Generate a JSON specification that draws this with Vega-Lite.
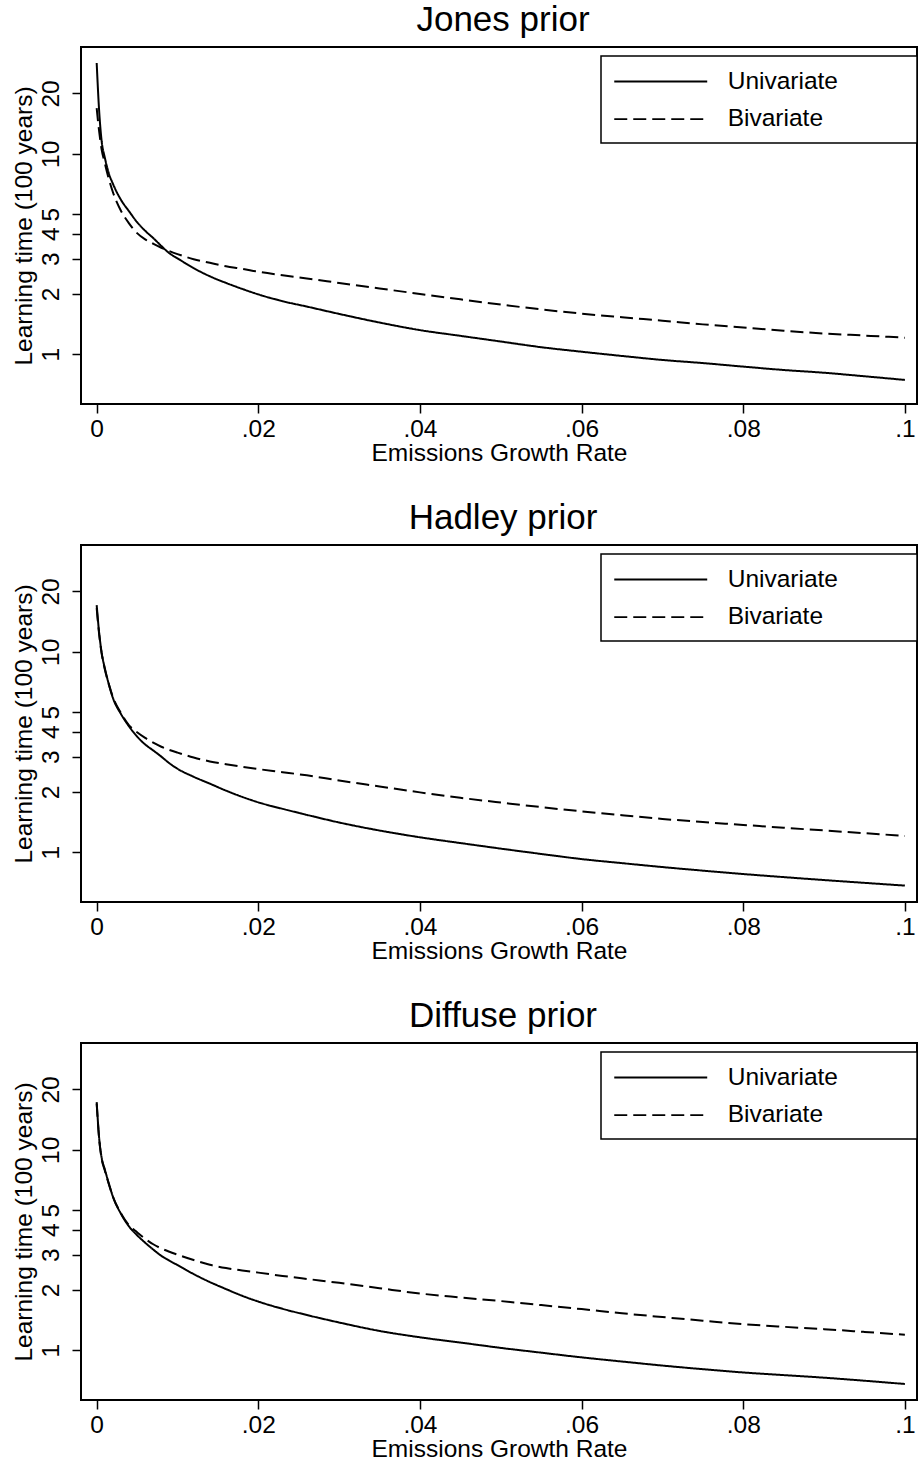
{
"$schema": "https://vega.github.io/schema/vega-lite/v6.json",
"background": "white",
"padding": {"left": 9, "top": 2, "right": 0, "bottom": 0},
"autosize": {"type": "pad"},
"config": {
  "font": "Liberation Sans",
  "view": {"stroke": "black", "strokeWidth": 2},
  "axis": {"domain": false, "grid": false, "tickColor": "black", "tickWidth": 1.5, "tickSize": 9, "labelColor": "black", "titleColor": "black", "labelFontSize": 24.5, "titleFontSize": 24.5, "titleFontWeight": "normal", "labelFont": "Liberation Sans", "titleFont": "Liberation Sans"},
  "title": {"fontSize": 35, "fontWeight": "normal", "color": "black", "anchor": "middle", "offset": 9, "dx": 4, "baseline": "alphabetic", "font": "Liberation Sans"},
  "legend": {"strokeWidth": 1.5},
  "concat": {"spacing": 34}
},
"datasets": {"curves": [
{"prior":"Jones prior","model":"Univariate","growth":0,"time":28.4},
{"prior":"Jones prior","model":"Univariate","growth":0.0003,"time":16.5},
{"prior":"Jones prior","model":"Univariate","growth":0.0006,"time":11.7},
{"prior":"Jones prior","model":"Univariate","growth":0.001,"time":9.6},
{"prior":"Jones prior","model":"Univariate","growth":0.0015,"time":8.0},
{"prior":"Jones prior","model":"Univariate","growth":0.002,"time":7.1},
{"prior":"Jones prior","model":"Univariate","growth":0.003,"time":5.9},
{"prior":"Jones prior","model":"Univariate","growth":0.004,"time":5.17},
{"prior":"Jones prior","model":"Univariate","growth":0.005,"time":4.56},
{"prior":"Jones prior","model":"Univariate","growth":0.006,"time":4.13},
{"prior":"Jones prior","model":"Univariate","growth":0.007,"time":3.80},
{"prior":"Jones prior","model":"Univariate","growth":0.008,"time":3.47},
{"prior":"Jones prior","model":"Univariate","growth":0.009,"time":3.19},
{"prior":"Jones prior","model":"Univariate","growth":0.01,"time":3.01},
{"prior":"Jones prior","model":"Univariate","growth":0.012,"time":2.69},
{"prior":"Jones prior","model":"Univariate","growth":0.014,"time":2.45},
{"prior":"Jones prior","model":"Univariate","growth":0.016,"time":2.27},
{"prior":"Jones prior","model":"Univariate","growth":0.018,"time":2.12},
{"prior":"Jones prior","model":"Univariate","growth":0.02,"time":1.99},
{"prior":"Jones prior","model":"Univariate","growth":0.023,"time":1.84},
{"prior":"Jones prior","model":"Univariate","growth":0.026,"time":1.73},
{"prior":"Jones prior","model":"Univariate","growth":0.03,"time":1.59},
{"prior":"Jones prior","model":"Univariate","growth":0.035,"time":1.44},
{"prior":"Jones prior","model":"Univariate","growth":0.04,"time":1.32},
{"prior":"Jones prior","model":"Univariate","growth":0.045,"time":1.236},
{"prior":"Jones prior","model":"Univariate","growth":0.05,"time":1.158},
{"prior":"Jones prior","model":"Univariate","growth":0.055,"time":1.085},
{"prior":"Jones prior","model":"Univariate","growth":0.06,"time":1.03},
{"prior":"Jones prior","model":"Univariate","growth":0.065,"time":0.981},
{"prior":"Jones prior","model":"Univariate","growth":0.07,"time":0.937},
{"prior":"Jones prior","model":"Univariate","growth":0.075,"time":0.904},
{"prior":"Jones prior","model":"Univariate","growth":0.08,"time":0.868},
{"prior":"Jones prior","model":"Univariate","growth":0.085,"time":0.835},
{"prior":"Jones prior","model":"Univariate","growth":0.09,"time":0.809},
{"prior":"Jones prior","model":"Univariate","growth":0.095,"time":0.777},
{"prior":"Jones prior","model":"Univariate","growth":0.1,"time":0.745},
{"prior":"Jones prior","model":"Bivariate","growth":0,"time":16.9},
{"prior":"Jones prior","model":"Bivariate","growth":0.0003,"time":13.0},
{"prior":"Jones prior","model":"Bivariate","growth":0.0006,"time":10.6},
{"prior":"Jones prior","model":"Bivariate","growth":0.001,"time":9.0},
{"prior":"Jones prior","model":"Bivariate","growth":0.0015,"time":7.5},
{"prior":"Jones prior","model":"Bivariate","growth":0.002,"time":6.45},
{"prior":"Jones prior","model":"Bivariate","growth":0.003,"time":5.2},
{"prior":"Jones prior","model":"Bivariate","growth":0.004,"time":4.5},
{"prior":"Jones prior","model":"Bivariate","growth":0.005,"time":4.02},
{"prior":"Jones prior","model":"Bivariate","growth":0.006,"time":3.74},
{"prior":"Jones prior","model":"Bivariate","growth":0.007,"time":3.56},
{"prior":"Jones prior","model":"Bivariate","growth":0.008,"time":3.40},
{"prior":"Jones prior","model":"Bivariate","growth":0.009,"time":3.27},
{"prior":"Jones prior","model":"Bivariate","growth":0.01,"time":3.16},
{"prior":"Jones prior","model":"Bivariate","growth":0.012,"time":2.98},
{"prior":"Jones prior","model":"Bivariate","growth":0.014,"time":2.86},
{"prior":"Jones prior","model":"Bivariate","growth":0.016,"time":2.75},
{"prior":"Jones prior","model":"Bivariate","growth":0.018,"time":2.67},
{"prior":"Jones prior","model":"Bivariate","growth":0.02,"time":2.58},
{"prior":"Jones prior","model":"Bivariate","growth":0.023,"time":2.48},
{"prior":"Jones prior","model":"Bivariate","growth":0.026,"time":2.39},
{"prior":"Jones prior","model":"Bivariate","growth":0.03,"time":2.27},
{"prior":"Jones prior","model":"Bivariate","growth":0.035,"time":2.13},
{"prior":"Jones prior","model":"Bivariate","growth":0.04,"time":2.0},
{"prior":"Jones prior","model":"Bivariate","growth":0.045,"time":1.88},
{"prior":"Jones prior","model":"Bivariate","growth":0.05,"time":1.77},
{"prior":"Jones prior","model":"Bivariate","growth":0.055,"time":1.675},
{"prior":"Jones prior","model":"Bivariate","growth":0.06,"time":1.595},
{"prior":"Jones prior","model":"Bivariate","growth":0.065,"time":1.53},
{"prior":"Jones prior","model":"Bivariate","growth":0.07,"time":1.47},
{"prior":"Jones prior","model":"Bivariate","growth":0.075,"time":1.41},
{"prior":"Jones prior","model":"Bivariate","growth":0.08,"time":1.36},
{"prior":"Jones prior","model":"Bivariate","growth":0.085,"time":1.31},
{"prior":"Jones prior","model":"Bivariate","growth":0.09,"time":1.27},
{"prior":"Jones prior","model":"Bivariate","growth":0.095,"time":1.24},
{"prior":"Jones prior","model":"Bivariate","growth":0.1,"time":1.21},
{"prior":"Hadley prior","model":"Univariate","growth":0,"time":17.1},
{"prior":"Hadley prior","model":"Univariate","growth":0.0003,"time":12.5},
{"prior":"Hadley prior","model":"Univariate","growth":0.0006,"time":10.0},
{"prior":"Hadley prior","model":"Univariate","growth":0.001,"time":8.3},
{"prior":"Hadley prior","model":"Univariate","growth":0.0015,"time":6.9},
{"prior":"Hadley prior","model":"Univariate","growth":0.002,"time":5.9},
{"prior":"Hadley prior","model":"Univariate","growth":0.003,"time":4.9},
{"prior":"Hadley prior","model":"Univariate","growth":0.004,"time":4.25},
{"prior":"Hadley prior","model":"Univariate","growth":0.005,"time":3.78},
{"prior":"Hadley prior","model":"Univariate","growth":0.006,"time":3.45},
{"prior":"Hadley prior","model":"Univariate","growth":0.007,"time":3.22},
{"prior":"Hadley prior","model":"Univariate","growth":0.008,"time":3.0},
{"prior":"Hadley prior","model":"Univariate","growth":0.009,"time":2.78},
{"prior":"Hadley prior","model":"Univariate","growth":0.01,"time":2.61},
{"prior":"Hadley prior","model":"Univariate","growth":0.012,"time":2.38},
{"prior":"Hadley prior","model":"Univariate","growth":0.014,"time":2.20},
{"prior":"Hadley prior","model":"Univariate","growth":0.016,"time":2.03},
{"prior":"Hadley prior","model":"Univariate","growth":0.018,"time":1.89},
{"prior":"Hadley prior","model":"Univariate","growth":0.02,"time":1.775},
{"prior":"Hadley prior","model":"Univariate","growth":0.023,"time":1.647},
{"prior":"Hadley prior","model":"Univariate","growth":0.026,"time":1.537},
{"prior":"Hadley prior","model":"Univariate","growth":0.03,"time":1.408},
{"prior":"Hadley prior","model":"Univariate","growth":0.035,"time":1.284},
{"prior":"Hadley prior","model":"Univariate","growth":0.04,"time":1.188},
{"prior":"Hadley prior","model":"Univariate","growth":0.045,"time":1.112},
{"prior":"Hadley prior","model":"Univariate","growth":0.05,"time":1.043},
{"prior":"Hadley prior","model":"Univariate","growth":0.055,"time":0.981},
{"prior":"Hadley prior","model":"Univariate","growth":0.06,"time":0.925},
{"prior":"Hadley prior","model":"Univariate","growth":0.065,"time":0.883},
{"prior":"Hadley prior","model":"Univariate","growth":0.07,"time":0.844},
{"prior":"Hadley prior","model":"Univariate","growth":0.075,"time":0.81},
{"prior":"Hadley prior","model":"Univariate","growth":0.08,"time":0.779},
{"prior":"Hadley prior","model":"Univariate","growth":0.085,"time":0.752},
{"prior":"Hadley prior","model":"Univariate","growth":0.09,"time":0.727},
{"prior":"Hadley prior","model":"Univariate","growth":0.095,"time":0.704},
{"prior":"Hadley prior","model":"Univariate","growth":0.1,"time":0.682},
{"prior":"Hadley prior","model":"Bivariate","growth":0,"time":16.5},
{"prior":"Hadley prior","model":"Bivariate","growth":0.0003,"time":12.3},
{"prior":"Hadley prior","model":"Bivariate","growth":0.0006,"time":9.9},
{"prior":"Hadley prior","model":"Bivariate","growth":0.001,"time":8.2},
{"prior":"Hadley prior","model":"Bivariate","growth":0.0015,"time":6.9},
{"prior":"Hadley prior","model":"Bivariate","growth":0.002,"time":5.95},
{"prior":"Hadley prior","model":"Bivariate","growth":0.003,"time":4.95},
{"prior":"Hadley prior","model":"Bivariate","growth":0.004,"time":4.3},
{"prior":"Hadley prior","model":"Bivariate","growth":0.005,"time":3.97},
{"prior":"Hadley prior","model":"Bivariate","growth":0.006,"time":3.72},
{"prior":"Hadley prior","model":"Bivariate","growth":0.007,"time":3.52},
{"prior":"Hadley prior","model":"Bivariate","growth":0.008,"time":3.36},
{"prior":"Hadley prior","model":"Bivariate","growth":0.009,"time":3.24},
{"prior":"Hadley prior","model":"Bivariate","growth":0.01,"time":3.14},
{"prior":"Hadley prior","model":"Bivariate","growth":0.012,"time":2.97},
{"prior":"Hadley prior","model":"Bivariate","growth":0.014,"time":2.84},
{"prior":"Hadley prior","model":"Bivariate","growth":0.016,"time":2.75},
{"prior":"Hadley prior","model":"Bivariate","growth":0.018,"time":2.67},
{"prior":"Hadley prior","model":"Bivariate","growth":0.02,"time":2.60},
{"prior":"Hadley prior","model":"Bivariate","growth":0.023,"time":2.51},
{"prior":"Hadley prior","model":"Bivariate","growth":0.026,"time":2.42},
{"prior":"Hadley prior","model":"Bivariate","growth":0.03,"time":2.28},
{"prior":"Hadley prior","model":"Bivariate","growth":0.035,"time":2.13},
{"prior":"Hadley prior","model":"Bivariate","growth":0.04,"time":1.99},
{"prior":"Hadley prior","model":"Bivariate","growth":0.045,"time":1.87},
{"prior":"Hadley prior","model":"Bivariate","growth":0.05,"time":1.77},
{"prior":"Hadley prior","model":"Bivariate","growth":0.055,"time":1.68},
{"prior":"Hadley prior","model":"Bivariate","growth":0.06,"time":1.60},
{"prior":"Hadley prior","model":"Bivariate","growth":0.065,"time":1.53},
{"prior":"Hadley prior","model":"Bivariate","growth":0.07,"time":1.467},
{"prior":"Hadley prior","model":"Bivariate","growth":0.075,"time":1.415},
{"prior":"Hadley prior","model":"Bivariate","growth":0.08,"time":1.37},
{"prior":"Hadley prior","model":"Bivariate","growth":0.085,"time":1.325},
{"prior":"Hadley prior","model":"Bivariate","growth":0.09,"time":1.285},
{"prior":"Hadley prior","model":"Bivariate","growth":0.095,"time":1.245},
{"prior":"Hadley prior","model":"Bivariate","growth":0.1,"time":1.207},
{"prior":"Diffuse prior","model":"Univariate","growth":0,"time":17.3},
{"prior":"Diffuse prior","model":"Univariate","growth":0.0003,"time":11.5},
{"prior":"Diffuse prior","model":"Univariate","growth":0.0006,"time":9.2},
{"prior":"Diffuse prior","model":"Univariate","growth":0.001,"time":8.0},
{"prior":"Diffuse prior","model":"Univariate","growth":0.0015,"time":6.8},
{"prior":"Diffuse prior","model":"Univariate","growth":0.002,"time":5.85},
{"prior":"Diffuse prior","model":"Univariate","growth":0.003,"time":4.8},
{"prior":"Diffuse prior","model":"Univariate","growth":0.004,"time":4.15},
{"prior":"Diffuse prior","model":"Univariate","growth":0.005,"time":3.75},
{"prior":"Diffuse prior","model":"Univariate","growth":0.006,"time":3.44},
{"prior":"Diffuse prior","model":"Univariate","growth":0.007,"time":3.18},
{"prior":"Diffuse prior","model":"Univariate","growth":0.008,"time":2.96},
{"prior":"Diffuse prior","model":"Univariate","growth":0.009,"time":2.8},
{"prior":"Diffuse prior","model":"Univariate","growth":0.01,"time":2.66},
{"prior":"Diffuse prior","model":"Univariate","growth":0.012,"time":2.40},
{"prior":"Diffuse prior","model":"Univariate","growth":0.014,"time":2.19},
{"prior":"Diffuse prior","model":"Univariate","growth":0.016,"time":2.02},
{"prior":"Diffuse prior","model":"Univariate","growth":0.018,"time":1.87},
{"prior":"Diffuse prior","model":"Univariate","growth":0.02,"time":1.75},
{"prior":"Diffuse prior","model":"Univariate","growth":0.023,"time":1.61},
{"prior":"Diffuse prior","model":"Univariate","growth":0.026,"time":1.50},
{"prior":"Diffuse prior","model":"Univariate","growth":0.03,"time":1.376},
{"prior":"Diffuse prior","model":"Univariate","growth":0.035,"time":1.249},
{"prior":"Diffuse prior","model":"Univariate","growth":0.04,"time":1.161},
{"prior":"Diffuse prior","model":"Univariate","growth":0.045,"time":1.093},
{"prior":"Diffuse prior","model":"Univariate","growth":0.05,"time":1.028},
{"prior":"Diffuse prior","model":"Univariate","growth":0.055,"time":0.973},
{"prior":"Diffuse prior","model":"Univariate","growth":0.06,"time":0.922},
{"prior":"Diffuse prior","model":"Univariate","growth":0.065,"time":0.879},
{"prior":"Diffuse prior","model":"Univariate","growth":0.07,"time":0.839},
{"prior":"Diffuse prior","model":"Univariate","growth":0.075,"time":0.805},
{"prior":"Diffuse prior","model":"Univariate","growth":0.08,"time":0.775},
{"prior":"Diffuse prior","model":"Univariate","growth":0.085,"time":0.752},
{"prior":"Diffuse prior","model":"Univariate","growth":0.09,"time":0.73},
{"prior":"Diffuse prior","model":"Univariate","growth":0.095,"time":0.705},
{"prior":"Diffuse prior","model":"Univariate","growth":0.1,"time":0.679},
{"prior":"Diffuse prior","model":"Bivariate","growth":0,"time":17.0},
{"prior":"Diffuse prior","model":"Bivariate","growth":0.0003,"time":11.4},
{"prior":"Diffuse prior","model":"Bivariate","growth":0.0006,"time":9.1},
{"prior":"Diffuse prior","model":"Bivariate","growth":0.001,"time":7.9},
{"prior":"Diffuse prior","model":"Bivariate","growth":0.0015,"time":6.75},
{"prior":"Diffuse prior","model":"Bivariate","growth":0.002,"time":5.85},
{"prior":"Diffuse prior","model":"Bivariate","growth":0.003,"time":4.82},
{"prior":"Diffuse prior","model":"Bivariate","growth":0.004,"time":4.2},
{"prior":"Diffuse prior","model":"Bivariate","growth":0.005,"time":3.88},
{"prior":"Diffuse prior","model":"Bivariate","growth":0.006,"time":3.6},
{"prior":"Diffuse prior","model":"Bivariate","growth":0.007,"time":3.38},
{"prior":"Diffuse prior","model":"Bivariate","growth":0.008,"time":3.22},
{"prior":"Diffuse prior","model":"Bivariate","growth":0.009,"time":3.1},
{"prior":"Diffuse prior","model":"Bivariate","growth":0.01,"time":3.0},
{"prior":"Diffuse prior","model":"Bivariate","growth":0.012,"time":2.82},
{"prior":"Diffuse prior","model":"Bivariate","growth":0.014,"time":2.67},
{"prior":"Diffuse prior","model":"Bivariate","growth":0.016,"time":2.57},
{"prior":"Diffuse prior","model":"Bivariate","growth":0.018,"time":2.50},
{"prior":"Diffuse prior","model":"Bivariate","growth":0.02,"time":2.44},
{"prior":"Diffuse prior","model":"Bivariate","growth":0.023,"time":2.35},
{"prior":"Diffuse prior","model":"Bivariate","growth":0.026,"time":2.27},
{"prior":"Diffuse prior","model":"Bivariate","growth":0.03,"time":2.17},
{"prior":"Diffuse prior","model":"Bivariate","growth":0.035,"time":2.04},
{"prior":"Diffuse prior","model":"Bivariate","growth":0.04,"time":1.92},
{"prior":"Diffuse prior","model":"Bivariate","growth":0.045,"time":1.835},
{"prior":"Diffuse prior","model":"Bivariate","growth":0.05,"time":1.76},
{"prior":"Diffuse prior","model":"Bivariate","growth":0.055,"time":1.68},
{"prior":"Diffuse prior","model":"Bivariate","growth":0.06,"time":1.605},
{"prior":"Diffuse prior","model":"Bivariate","growth":0.065,"time":1.53},
{"prior":"Diffuse prior","model":"Bivariate","growth":0.07,"time":1.465},
{"prior":"Diffuse prior","model":"Bivariate","growth":0.075,"time":1.405},
{"prior":"Diffuse prior","model":"Bivariate","growth":0.08,"time":1.35},
{"prior":"Diffuse prior","model":"Bivariate","growth":0.085,"time":1.31},
{"prior":"Diffuse prior","model":"Bivariate","growth":0.09,"time":1.275},
{"prior":"Diffuse prior","model":"Bivariate","growth":0.095,"time":1.235},
{"prior":"Diffuse prior","model":"Bivariate","growth":0.1,"time":1.195}
]},
"vconcat": [
{
  "title": "Jones prior",
  "width": 836, "height": 357,
  "data": {"name": "curves"},
  "transform": [{"filter": "datum.prior === 'Jones prior'"}],
  "mark": {"type": "line", "color": "black", "strokeWidth": 2, "interpolate": "monotone", "clip": true},
  "encoding": {
    "x": {"field": "growth", "type": "quantitative", "scale": {"domain": [-0.00194, 0.1015], "nice": false, "zero": false},
      "axis": {"values": [0, 0.02, 0.04, 0.06, 0.08, 0.1], "labelExpr": "datum.value == 0 ? '0' : replace(format(datum.value, '.2~f'), '0.', '.')", "title": "Emissions Growth Rate", "labelPadding": 4, "titlePadding": 1, "labelFlush": false}},
    "y": {"field": "time", "type": "quantitative", "scale": {"type": "log", "domain": [0.565, 34.1], "nice": false},
      "axis": {"values": [1, 2, 3, 4, 5, 10, 20], "labelAngle": -90, "labelAlign": "center", "labelBaseline": "alphabetic", "labelPadding": 14, "labelOverlap": false, "title": "Learning time (100 years)", "titlePadding": 2}},
    "strokeDash": {"field": "model", "type": "nominal", "scale": {"domain": ["Univariate", "Bivariate"], "range": [[1, 0], [13, 6]]},
      "legend": {"title": null, "orient": "none", "legendX": 520, "legendY": 9, "symbolType": "M-1,0H6.59M22.4,0", "symbolSize": 600, "symbolStrokeWidth": 1.8, "symbolStrokeColor": "black", "labelFontSize": 24.5, "labelColor": "black", "labelOffset": 87.7, "padding": 12, "rowPadding": 12.6, "strokeColor": "black", "fillColor": "white", "labelLimit": 500}}
  }
},
{
  "title": "Hadley prior",
  "width": 836, "height": 357,
  "data": {"name": "curves"},
  "transform": [{"filter": "datum.prior === 'Hadley prior'"}],
  "mark": {"type": "line", "color": "black", "strokeWidth": 2, "interpolate": "monotone", "clip": true},
  "encoding": {
    "x": {"field": "growth", "type": "quantitative", "scale": {"domain": [-0.00194, 0.1015], "nice": false, "zero": false},
      "axis": {"values": [0, 0.02, 0.04, 0.06, 0.08, 0.1], "labelExpr": "datum.value == 0 ? '0' : replace(format(datum.value, '.2~f'), '0.', '.')", "title": "Emissions Growth Rate", "labelPadding": 4, "titlePadding": 1, "labelFlush": false}},
    "y": {"field": "time", "type": "quantitative", "scale": {"type": "log", "domain": [0.565, 34.1], "nice": false},
      "axis": {"values": [1, 2, 3, 4, 5, 10, 20], "labelAngle": -90, "labelAlign": "center", "labelBaseline": "alphabetic", "labelPadding": 14, "labelOverlap": false, "title": "Learning time (100 years)", "titlePadding": 2}},
    "strokeDash": {"field": "model", "type": "nominal", "scale": {"domain": ["Univariate", "Bivariate"], "range": [[1, 0], [13, 6]]},
      "legend": {"title": null, "orient": "none", "legendX": 520, "legendY": 9, "symbolType": "M-1,0H6.59M22.4,0", "symbolSize": 600, "symbolStrokeWidth": 1.8, "symbolStrokeColor": "black", "labelFontSize": 24.5, "labelColor": "black", "labelOffset": 87.7, "padding": 12, "rowPadding": 12.6, "strokeColor": "black", "fillColor": "white", "labelLimit": 500}}
  }
},
{
  "title": "Diffuse prior",
  "width": 836, "height": 357,
  "data": {"name": "curves"},
  "transform": [{"filter": "datum.prior === 'Diffuse prior'"}],
  "mark": {"type": "line", "color": "black", "strokeWidth": 2, "interpolate": "monotone", "clip": true},
  "encoding": {
    "x": {"field": "growth", "type": "quantitative", "scale": {"domain": [-0.00194, 0.1015], "nice": false, "zero": false},
      "axis": {"values": [0, 0.02, 0.04, 0.06, 0.08, 0.1], "labelExpr": "datum.value == 0 ? '0' : replace(format(datum.value, '.2~f'), '0.', '.')", "title": "Emissions Growth Rate", "labelPadding": 4, "titlePadding": 1, "labelFlush": false}},
    "y": {"field": "time", "type": "quantitative", "scale": {"type": "log", "domain": [0.565, 34.1], "nice": false},
      "axis": {"values": [1, 2, 3, 4, 5, 10, 20], "labelAngle": -90, "labelAlign": "center", "labelBaseline": "alphabetic", "labelPadding": 14, "labelOverlap": false, "title": "Learning time (100 years)", "titlePadding": 2}},
    "strokeDash": {"field": "model", "type": "nominal", "scale": {"domain": ["Univariate", "Bivariate"], "range": [[1, 0], [13, 6]]},
      "legend": {"title": null, "orient": "none", "legendX": 520, "legendY": 9, "symbolType": "M-1,0H6.59M22.4,0", "symbolSize": 600, "symbolStrokeWidth": 1.8, "symbolStrokeColor": "black", "labelFontSize": 24.5, "labelColor": "black", "labelOffset": 87.7, "padding": 12, "rowPadding": 12.6, "strokeColor": "black", "fillColor": "white", "labelLimit": 500}}
  }
}
],
"resolve": {"scale": {"strokeDash": "independent"}, "legend": {"strokeDash": "independent"}}
}
